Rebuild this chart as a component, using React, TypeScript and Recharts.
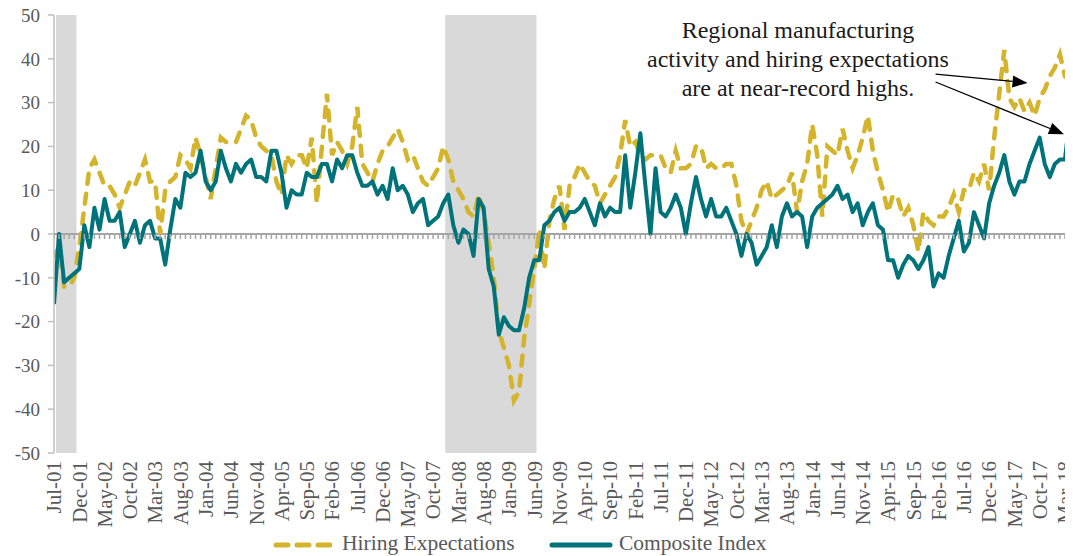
import { ComposedChart, Line, Scatter, XAxis, YAxis, ReferenceArea, ReferenceLine } from 'recharts';

const FONT = '"Liberation Serif", "Times New Roman", serif';
const GOLD = '#D4B42A';
const TEAL = '#00737A';
const GREY_TEXT = '#595959';

// monthly observations, Jul-01 .. Apr-18
const MONTH_NAMES = ['Jan', 'Feb', 'Mar', 'Apr', 'May', 'Jun', 'Jul', 'Aug', 'Sep', 'Oct', 'Nov', 'Dec'];
const months = Array.from({ length: 202 }, (_, k) => {
    const m = (6 + k) % 12;
    const yr = 2001 + Math.floor((6 + k) / 12);
    return `${MONTH_NAMES[m]}-${String(yr % 100).padStart(2, '0')}`;
});

const hiringExpectations = [
    -5, -3, -12, -12, -10, -3, 6, 15, 17, 14,
    11, 11, 9, 6, 9, 12, 11, 14, 17, 12,
    12, 0, 10, 12, 13, 18, 17, 15, 22, 18,
    13, 8, 15, 22, 21, 21, 21, 24, 27, 26,
    22, 20, 19, 18, 12, 9, 18, 16, 18, 18,
    15, 22, 7, 20, 32, 18, 21, 19, 16, 20,
    29, 16, 14, 12, 16, 19, 20, 22, 24, 21,
    17, 18, 15, 12, 11, 13, 15, 20, 17, 12,
    10, 8, 5, 4, 9, 5, -2, -10, -22, -26,
    -30, -38, -36, -24, -16, -8, 1, -8, 3, 8,
    11, 1, 11, 13, 16, 14, 12, 11, 7, 9,
    11, 13, 18, 26, 20, 21, 18, 17, 18, 18,
    18, 15, 14, 19, 15, 15, 16, 20, 20, 15,
    16, 15, 15, 16, 16, 11, 3, 0, 3, 6,
    10, 12, 8, 9, 10, 11, 14, 5, 12, 16,
    25, 18, 4, 20, 19, 18, 24, 19, 15, 18,
    22, 27, 19, 14, 10, 5, 9, 8, 4, 6,
    2, -4, 5, 3, 2, 4, 4, 6, 9, 5,
    10, 10, 14, 12, 16, 10, 22, 32, 42, 31,
    29, 31, 28, 30, 27, 31, 33, 36, 38, 41,
    36, 35,
];

const compositeIndex = [
    -16, 0, -11, -10, -9, -8, 2, -3, 6, 1,
    8, 3, 3, 5, -3, 0, 3, -2, 2, 3,
    -1, -1, -7, 1, 8, 6, 14, 13, 14, 19,
    12, 10, 12, 19, 15, 12, 16, 14, 16, 17,
    13, 13, 12, 19, 19, 14, 6, 10, 9, 9,
    14, 13, 13, 16, 16, 12, 17, 15, 18, 18,
    14, 11, 11, 12, 9, 11, 8, 15, 10, 11,
    9, 5, 7, 8, 2, 3, 4, 7, 9, 2,
    -2, 1, 0, -5, 8, 6, -8, -12, -23, -19,
    -21, -22, -22, -17, -10, -6, -6, 2, 3, 5,
    6, 3, 5, 5, 6, 8, 5, 2, 7, 4,
    6, 5, 5, 18, 6, 14, 23, 11, 0, 15,
    5, 4, 6, 9, 6, 0, 7, 13, 8, 4,
    8, 4, 4, 6, 3, 0, -5, 0, -2, -7,
    -5, -3, 2, -3, 4, 7, 4, 5, 4, -3,
    4, 6, 7, 8, 9, 11, 8, 9, 5, 7,
    2, 5, 7, 2, 1, -6, -6, -10, -7, -5,
    -6, -8, -6, -3, -12, -9, -10, -5, -1, 3,
    -4, -2, 5, 2, -1, 7, 11, 14, 18, 12,
    9, 12, 12, 16, 19, 22, 16, 13, 16, 17,
    17, 27,
];

const yTicks = [-50, -40, -30, -20, -10, 0, 10, 20, 30, 40, 50];
const xTickLabels = months.filter((_, k) => k % 5 === 0 && k <= 200);

const recessions = [
    { from: 'Jul-01', to: 'Nov-01' },
    { from: 'Dec-07', to: 'Jun-09' },
];

const noteLines = ['Regional manufacturing', 'activity and hiring expectations', 'are at near-record highs.'];
// arrows in data space: month index / value, start -> tip
const noteArrows = [
    { x1: 174.4, y1: 36.5, x2: 192.6, y2: 34.5 },
    { x1: 174.4, y1: 34.7, x2: 199.8, y2: 22.8 },
];

const data = months.map((month, i) => ({
    i,
    month,
    hiring: hiringExpectations[i],
    composite: compositeIndex[i],
    axis: 0,
}));

const idx = (m: string) => months.indexOf(m);

// eslint-disable-next-line @typescript-eslint/no-explicit-any
const MonthTick = ({ x, y, payload }: any) => (
    <text
        x={x}
        y={y}
        transform={`rotate(-90 ${x} ${y})`}
        textAnchor="end"
        dy="0.35em"
        fill={GREY_TEXT}
        fontSize={21}
        style={{ fontFamily: FONT }}
    >
        {months[payload.value]}
    </text>
);

// eslint-disable-next-line @typescript-eslint/no-explicit-any
const AxisTick = (props: any) => {
    const { cx, cy } = props;
    if (cx == null || cy == null) return null;
    return <line x1={cx} x2={cx} y1={cy} y2={cy + 5} stroke="#a6a6a6" strokeWidth={1.5} />;
};

// eslint-disable-next-line @typescript-eslint/no-explicit-any
const ArrowShape = (props: any) => {
    const { x1, y1, x2, y2 } = props;
    if ([x1, y1, x2, y2].some((v) => v == null)) return null;
    const ang = Math.atan2(y2 - y1, x2 - x1);
    const len = 15;
    const half = 6;
    const bx = x2 - len * Math.cos(ang);
    const by = y2 - len * Math.sin(ang);
    const px = -Math.sin(ang) * half;
    const py = Math.cos(ang) * half;
    return (
        <g>
            <line x1={x1} y1={y1} x2={bx} y2={by} stroke="#000" strokeWidth={1.3} />
            <polygon points={`${x2},${y2} ${bx + px},${by + py} ${bx - px},${by - py}`} fill="#000" />
        </g>
    );
};

export default function App() {
    return (
        <div style={{ position: 'relative', width: 1065, height: 556, marginTop: -8, fontFamily: FONT }}>
            <ComposedChart width={1065} height={556} data={data} margin={{ top: 15, right: 3, bottom: 23, left: 0 }}>
                <XAxis
                    dataKey="i"
                    type="number"
                    domain={[0, 201]}
                    ticks={xTickLabels.map(idx)}
                    interval={0}
                    axisLine={false}
                    tickLine={false}
                    height={80}
                    tick={<MonthTick />}
                    allowDataOverflow
                />
                <YAxis
                    domain={[-50, 50]}
                    ticks={yTicks}
                    interval={0}
                    width={46}
                    axisLine={{ stroke: '#bfbfbf', strokeWidth: 1.5 }}
                    tickLine={{ stroke: '#bfbfbf', strokeWidth: 1.5 }}
                    tickSize={6}
                    tickMargin={8}
                    tick={{ fill: GREY_TEXT, fontSize: 19, style: { fontFamily: FONT } }}
                    allowDataOverflow
                />
                {recessions.map((r) => (
                    <ReferenceArea
                        key={r.from}
                        x1={Math.max(0, idx(r.from) + 0.4)}
                        x2={idx(r.to) + 0.45}
                        y1={-50}
                        y2={50}
                        fill="#d9d9d9"
                        fillOpacity={1}
                        stroke="none"
                    />
                ))}
                <ReferenceLine y={0} stroke="#a6a6a6" strokeWidth={2} />
                <Scatter dataKey="axis" shape={<AxisTick />} isAnimationActive={false} legendType="none" />
                <Line
                    type="linear"
                    dataKey="hiring"
                    stroke={GOLD}
                    strokeWidth={4.5}
                    strokeDasharray="10 10"
                    strokeLinecap="round"
                    dot={false}
                    isAnimationActive={false}
                />
                <Line
                    type="linear"
                    dataKey="composite"
                    stroke={TEAL}
                    strokeWidth={4}
                    strokeLinejoin="round"
                    dot={false}
                    isAnimationActive={false}
                />
                {noteArrows.map((a, k) => (
                    <ReferenceLine
                        key={k}
                        segment={[
                            { x: a.x1, y: a.y1 },
                            { x: a.x2, y: a.y2 },
                        ]}
                        ifOverflow="visible"
                        shape={<ArrowShape />}
                    />
                ))}
            </ComposedChart>

            <div
                style={{
                    position: 'absolute',
                    left: 630,
                    top: 16,
                    width: 320,
                    textAlign: 'center',
                    fontSize: 24,
                    lineHeight: '29px',
                    color: '#1a1a1a',
                }}
            >
                {noteLines.map((l) => (
                    <div key={l}>{l}</div>
                ))}
            </div>

            <div style={{ position: 'absolute', left: 0, top: 531, fontSize: 21.5, color: GREY_TEXT, whiteSpace: 'nowrap' }}>
                <svg width={60} height={10} style={{ position: 'absolute', left: 264, top: 9 }}>
                    <line x1={4} y1={5} x2={58} y2={5} stroke={GOLD} strokeWidth={5} strokeDasharray="12 9" strokeLinecap="round" />
                </svg>
                <span style={{ position: 'absolute', left: 334, top: 0 }}>Hiring Expectations</span>
                <svg width={64} height={10} style={{ position: 'absolute', left: 541, top: 9 }}>
                    <line x1={3} y1={5} x2={61} y2={5} stroke={TEAL} strokeWidth={5} strokeLinecap="round" />
                </svg>
                <span style={{ position: 'absolute', left: 611, top: 0 }}>Composite Index</span>
            </div>
        </div>
    );
}
